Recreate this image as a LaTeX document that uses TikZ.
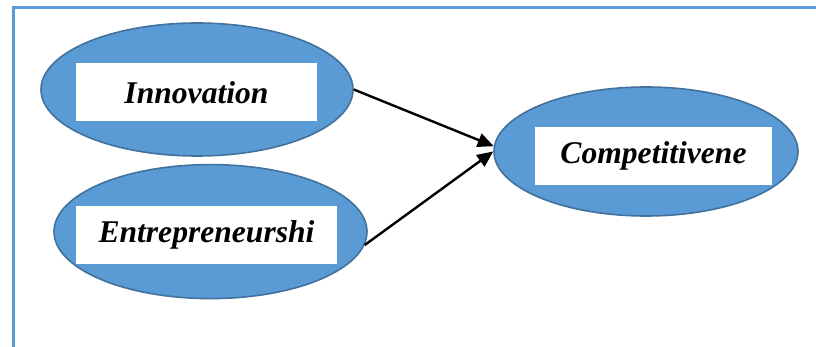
\documentclass[tikz,border=0pt]{standalone}
\usepackage{fontspec}
\setmainfont{Liberation Serif}
\usetikzlibrary{shapes.geometric, arrows.meta, positioning}

\definecolor{ovalblue}{HTML}{5B9BD5}
\definecolor{ovaledge}{HTML}{41719C}

\begin{document}
\begin{tikzpicture}[x=0.5pt, y=-0.5pt,
    construct/.style={ellipse, draw=ovaledge, fill=ovalblue, line width=0.8pt, inner sep=0pt},
    namebox/.style={rectangle, fill=white, minimum height=29pt, inner sep=0pt, font=\fontsize{15.8}{19}\selectfont\bfseries\itshape},
    rel/.style={draw, -{Triangle[length=8pt, width=7pt]}, line width=1.2pt, black},
    frame/.style={draw=ovalblue, line width=1.5pt}]
    \useasboundingbox (0,0) rectangle (816,347);
    \draw [frame] (13.5,347) -- (13.5,7.5) -- (816,7.5);
    \node [construct, minimum width=156pt, minimum height=66.5pt] (innov) at (197,89.5) {};
    \node [construct, minimum width=156.5pt, minimum height=67pt, below=3.5pt of innov, xshift=6.75pt] (entre) {};
    \node [construct, minimum width=152pt, minimum height=64.5pt] (compet) at (646,151.5) {};
    \node [namebox, minimum width=120.5pt] (innovlbl) at ([shift={(-0.5,3)}]innov.center) {Innovation};
    \node [namebox, minimum width=130.5pt] (entrelbl) at ([shift={(-4,3)}]entre.center) {Entrepreneurshi};
    \node [namebox, minimum width=118.5pt] (competlbl) at ([shift={(7.5,4.5)}]compet.center) {Competitivene};
    \path [rel] (innov.east) -- (compet.178);
    \path [rel] (entre.-5) -- (compet.west);
\end{tikzpicture}
\end{document}
